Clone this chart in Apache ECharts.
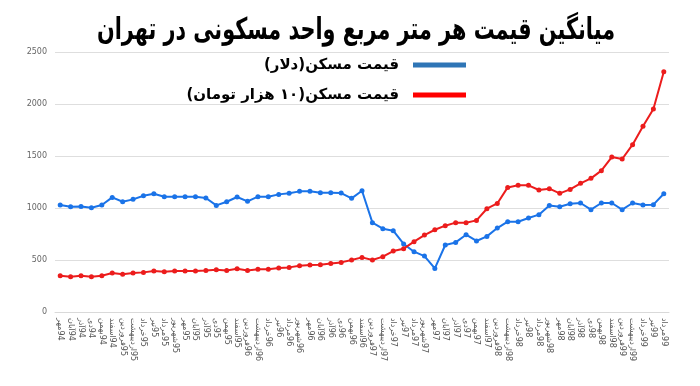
<!DOCTYPE html>
<html>
<head>
<meta charset="utf-8">
<script src="https://cdn.jsdelivr.net/npm/echarts@6/dist/echarts.min.js"></script>
<style>
html,body{margin:0;padding:0;background:#fff;}
#chart{width:700px;height:386px;}
</style>
</head>
<body>
<div id="chart"></div>
<script>
const titleText = 'میانگین قیمت هر متر مربع واحد مسکونی در تهران';
const seriesNames = ['\u200Fقیمت مسکن(دلار)\u200F', '\u200Fقیمت مسکن(۱۰ هزار تومان)\u200F'];
const categories = [
  'مهر\u200E94','آبان\u200E94','آذر\u200E94','دی\u200E94','بهمن\u200E94','اسفند\u200E94',
  'فروردین\u200E95','اردیبهشت\u200E95','خرداد\u200E95','تیر\u200E95','مرداد\u200E95','شهریور\u200E95','مهر\u200E95','آبان\u200E95','آذر\u200E95','دی\u200E95','بهمن\u200E95','اسفند\u200E95',
  'فروردین\u200E96','اردیبهشت\u200E96','خرداد\u200E96','تیر\u200E96','مرداد\u200E96','شهریور\u200E96','مهر\u200E96','آبان\u200E96','آذر\u200E96','دی\u200E96','بهمن\u200E96','اسفند\u200E96',
  'فروردین\u200E97','اردیبهشت\u200E97','خرداد\u200E97','تیر\u200E97','مرداد\u200E97','شهریور\u200E97','مهر\u200E97','آبان\u200E97','آذر\u200E97','دی\u200E97','بهمن\u200E97','اسفند\u200E97',
  'فروردین\u200E98','اردیبهشت\u200E98','خرداد\u200E98','تیر\u200E98','مرداد\u200E98','شهریور\u200E98','مهر\u200E98','آبان\u200E98','آذر\u200E98','دی\u200E98','بهمن\u200E98','اسفند\u200E98',
  'فروردین\u200E99','اردیبهشت\u200E99','خرداد\u200E99','تیر\u200E99','مرداد\u200E99'
];
const usdPrice = [1029,1012,1015,1003,1029,1102,1060,1083,1118,1137,1108,1108,1108,1108,1096,
  1025,1060,1106,1064,1109,1109,1131,1141,1160,1160,1147,1147,1144,1093,
  1166,859,801,782,654,580,538,419,644,669,743,683,727,807,868,
  868,904,936,1025,1012,1041,1048,984,1048,1048,984,1048,1029,1032,1137];
const tomanPrice = [349,339,349,339,349,375,362,375,381,394,388,394,394,394,400,
  407,400,416,400,410,410,423,429,445,452,455,467,477,500,
  525,500,532,586,609,676,740,791,830,859,859,881,993,1044,1198,
  1218,1218,1173,1186,1141,1179,1237,1285,1359,1490,1471,1609,1785,1952,2311];
const yTicks = {min: 0, max: 2500, interval: 500};

const FONT = 'DejaVu Sans';
// measure title to fit the reference box width
const titleFontSize = 30;
const titleFont = 'bold ' + titleFontSize + 'px "' + FONT + '"';
const mctx = document.createElement('canvas').getContext('2d');
mctx.font = titleFont;
const titleW = mctx.measureText(titleText).width;
const titleTargetW = 518;
const titleScaleX = titleTargetW / titleW;

const chart = echarts.init(document.getElementById('chart'), null, {renderer: 'canvas'});
const legendCommon = {
  orient: 'horizontal',
  align: 'right',
  right: 229,
  icon: 'rect',
  itemWidth: 53,
  itemHeight: 5,
  selectedMode: false,
  textStyle: {fontFamily: FONT, fontSize: 15, fontWeight: 'bold', color: '#000', lineHeight: 20, padding: [0, 9, 0, 0]}
};
chart.setOption({
  animation: false,
  backgroundColor: '#fff',
  graphic: [{
    type: 'text',
    x: 356, y: 31,
    scaleX: titleScaleX, scaleY: 1,
    style: {
      text: titleText,
      font: titleFont,
      fill: '#000',
      align: 'center',
      verticalAlign: 'middle'
    }
  }],
  legend: [
    Object.assign({}, legendCommon, {top: 50, data: [{name: seriesNames[0], itemStyle: {color: '#2e75b6'}}]}),
    Object.assign({}, legendCommon, {top: 80, data: [{name: seriesNames[1], itemStyle: {color: '#ff0000'}}]})
  ],
  grid: {left: 55, right: 31, top: 52, bottom: 74, containLabel: false},
  xAxis: {
    type: 'category',
    data: categories,
    boundaryGap: true,
    axisLine: {show: true, lineStyle: {color: '#d9d9d9'}},
    axisTick: {show: false},
    axisLabel: {interval: 0, rotate: -90, margin: 6, fontFamily: FONT, fontSize: 8, color: '#555'}
  },
  yAxis: {
    type: 'value',
    min: yTicks.min, max: yTicks.max, interval: yTicks.interval,
    axisLine: {show: false},
    axisTick: {show: false},
    axisLabel: {margin: 8, fontFamily: FONT, fontSize: 8, color: '#666', formatter: v => String(v)},
    splitLine: {lineStyle: {color: '#dedede', width: 1}}
  },
  series: [
    {
      name: seriesNames[0], type: 'line', data: usdPrice,
      symbol: 'circle', symbolSize: 5,
      lineStyle: {color: '#1a73e8', width: 2},
      itemStyle: {color: '#1a73e8'}
    },
    {
      name: seriesNames[1], type: 'line', data: tomanPrice,
      symbol: 'circle', symbolSize: 5,
      lineStyle: {color: '#ec1c1c', width: 2},
      itemStyle: {color: '#ec1c1c'}
    }
  ]
});
</script>
</body>
</html>
